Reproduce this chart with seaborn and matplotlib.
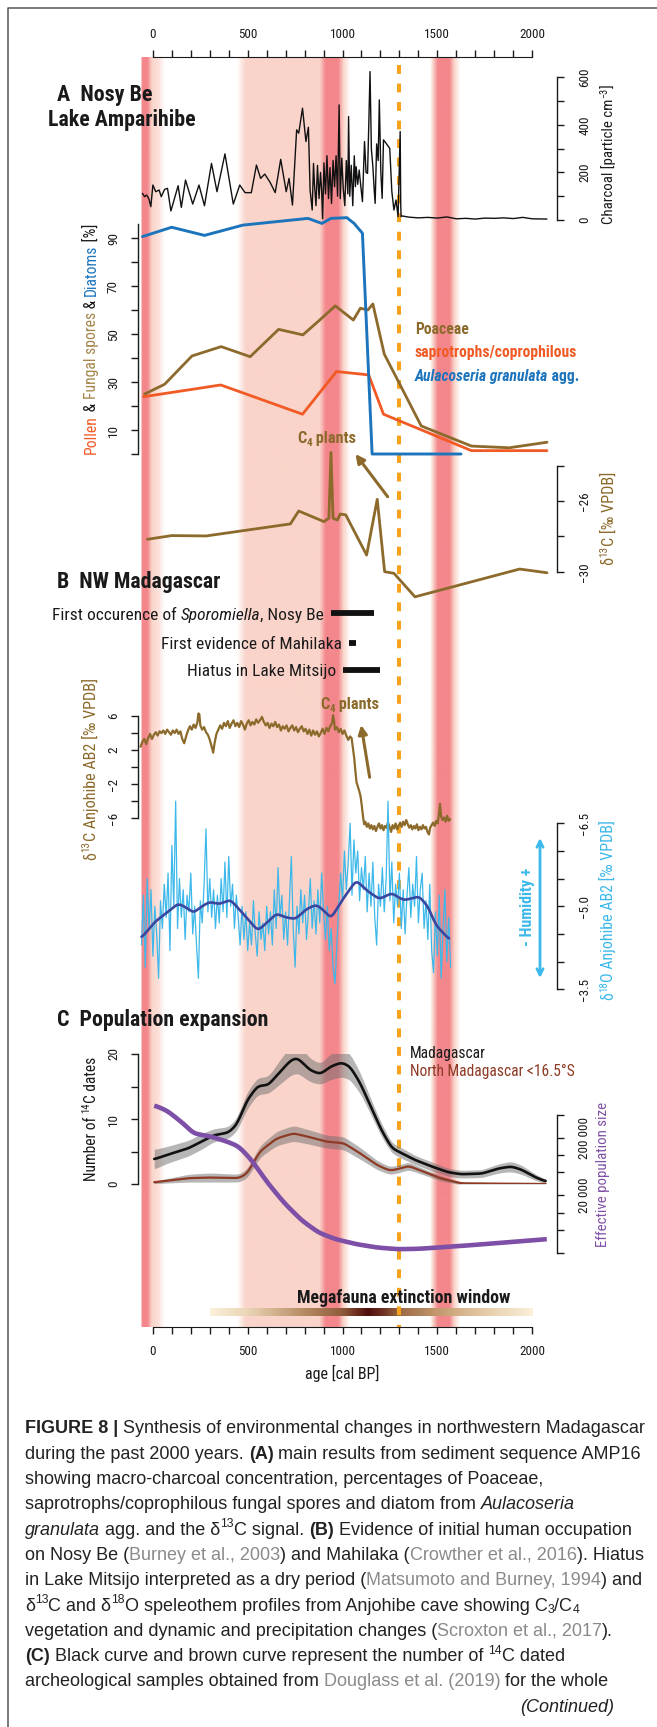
import numpy as np
import matplotlib
matplotlib.use("Agg")
import matplotlib.pyplot as plt
import matplotlib.transforms as mtransforms
from matplotlib.colors import to_rgb
from matplotlib.lines import Line2D
from matplotlib.patches import FancyArrowPatch
from matplotlib.ticker import FixedLocator, FuncFormatter, NullLocator
import seaborn as sns

sns.set_style("white")
FIG_FONT = ["Liberation Sans Narrow", "Roboto Condensed", "Open Sans Condensed", "Liberation Sans",
            "DejaVu Sans"]
CAP_FONT = ["Liberation Sans", "DejaVu Sans"]
plt.rcParams["font.family"] = FIG_FONT
plt.rcParams["axes.unicode_minus"] = True

# ---------------------------------------------------------------- data
# (A) Lake Amparihibe, AMP16: macro-charcoal [particle cm-3]
charcoal_age = [-55, -44, -33, -22, -11, 0, 15, 33, 44, 62, 77, 95, 133, 150, 172, 210, 243, 272,
                309, 338, 380, 424, 458, 486, 519, 546, 568, 590, 619, 645, 674, 703, 718, 736,
                758, 769, 789, 807, 820, 829, 840, 847, 852, 860, 868, 876, 884, 890, 895, 902,
                910, 918, 926, 934, 942, 950, 958, 966, 974, 982, 988, 996, 1004, 1012, 1020,
                1028, 1032, 1038, 1046, 1054, 1062, 1068, 1072, 1080, 1088, 1094, 1105, 1116,
                1124, 1132, 1139, 1145, 1152, 1160, 1166, 1172, 1180, 1188, 1194, 1202, 1209,
                1216, 1232, 1249, 1260, 1271, 1282, 1293, 1304, 1307, 1309, 1315, 1350, 1400,
                1450, 1500, 1550, 1600, 1650, 1700, 1750, 1800, 1850, 1900, 1950, 2000, 2078]
charcoal_conc = [112, 98, 105, 91, 56, 147, 119, 126, 98, 129, 133, 38, 144, 53, 168, 67, 147, 60,
                 238, 119, 278, 67, 147, 115, 115, 231, 175, 193, 157, 115, 255, 119, 175, 63,
                 379, 365, 470, 330, 390, 126, 42, 238, 150, 60, 230, 90, 200, 120, 5, 240,
                 110, 270, 90, 220, 70, 250, 140, 270, 100, 484, 90, 260, 130, 60, 250,
                 110, 435, 100, 230, 60, 270, 140, 224, 150, 210, 160, 77, 330,
                 200, 196, 420, 624, 300, 224, 140, 70, 320, 250, 505, 200, 91,
                 337, 320, 301, 120, 42, 84, 14, 372, 60, 14, 17, 12, 9,
                 11, 8, 13, 5, 7, 4, 8, 7, 9, 6, 11, 5, 4]

# pollen, fungal spores and diatoms [%]
aulacoseira_age = [-55, 99, 272, 475, 818, 891, 939, 1023, 1061, 1105, 1156, 1625]
aulacoseira_pct = [90.7, 94.6, 91.2, 95.5, 98.3, 96.2, 98.3, 98.6, 96.2, 92.1, 0.0, 0.0]
poaceae_age = [-44, 62, 206, 360, 513, 663, 791, 884, 962, 1057, 1094, 1134, 1160, 1220, 1304,
               1415, 1680, 1879, 2078]
poaceae_pct = [25.0, 29.1, 40.9, 44.8, 40.6, 52.0, 49.7, 56.2, 61.8, 55.9, 60.8, 60.1, 62.6, 41.7,
               28.8, 11.7, 3.3, 2.6, 4.9]
sapro_age = [-49, 358, 789, 968, 1138, 1216, 1680, 2078]
sapro_pct = [23.9, 28.8, 16.6, 34.4, 33.0, 16.6, 1.4, 1.4]

# bulk sediment d13C [permil VPDB]
lake_d13c_age = [-29, 99, 281, 725, 769, 902, 928, 939, 950, 973, 988, 1017, 1127, 1183, 1222,
                 1271, 1382, 1934, 2078]
lake_d13c = [-28.17, -27.96, -27.98, -27.30, -26.57, -27.17, -26.98, -23.26, -26.98, -27.08,
             -26.74, -26.79, -29.06, -25.91, -30.00, -30.09, -31.42, -29.85, -30.06]

# (B) archaeological / lake evidence [cal BP]
event_labels = [["First occurence of ", ("Sporomiella", "italic"), ", Nosy Be"],
                ["First evidence of Mahilaka"],
                ["Hiatus in Lake Mitsijo"]]
event_start = [939, 1034, 1001]
event_end = [1167, 1072, 1198]

# Anjohibe AB2 speleothem d13C [permil VPDB]
ab2_d13c_age = [-65, -55, -45, -35, -25, -15, -5, 5, 15, 25, 35, 45, 55, 65, 75, 85, 95, 105, 115,
                125, 135, 145, 155, 165, 175, 185, 195, 205, 215, 225, 235, 240, 245, 250, 260,
                270, 280, 290, 300, 310, 318, 325, 335, 345, 355, 365, 375, 385, 395, 405, 415,
                425, 435, 445, 455, 465, 475, 485, 495, 505, 515, 525, 535, 545, 555, 565, 575,
                585, 595, 605, 615, 625, 635, 645, 655, 665, 675, 685, 695, 705, 715, 725, 735,
                745, 755, 765, 775, 785, 795, 805, 815, 825, 835, 845, 855, 865, 875, 885, 895,
                905, 915, 925, 935, 945, 950, 955, 960, 970, 980, 990, 1000, 1010, 1020, 1030,
                1040, 1048, 1055, 1062, 1068, 1074, 1080, 1088, 1095, 1102, 1108, 1114, 1120,
                1128, 1136, 1144, 1152, 1160, 1168, 1176, 1184, 1192, 1200, 1208, 1216, 1224,
                1232, 1240, 1248, 1256, 1264, 1272, 1280, 1288, 1296, 1304, 1312, 1320, 1328,
                1336, 1344, 1352, 1360, 1368, 1376, 1384, 1392, 1400, 1408, 1416, 1424, 1432,
                1440, 1448, 1456, 1462, 1470, 1478, 1486, 1494, 1502, 1508, 1514, 1520, 1528,
                1536, 1544, 1552, 1560, 1568]
ab2_d13c = [2.4, 3.0, 3.3, 2.7, 3.4, 3.9, 3.3, 3.8, 4.1, 3.7, 4.2, 4.0, 4.3, 3.9, 4.4, 4.1, 3.8,
            4.3, 4.0, 4.4, 3.9, 4.2, 3.3, 2.8, 3.6, 4.3, 4.8, 4.4, 5.0, 4.6, 5.3, 6.3, 6.2, 4.9,
            4.4, 4.7, 4.1, 3.8, 3.2, 2.4, 1.7, 2.8, 3.9, 4.4, 4.9, 4.5, 5.2, 4.8, 5.4, 4.6, 5.1,
            5.5, 4.8, 5.2, 4.7, 5.4, 5.0, 4.4, 5.1, 5.5, 4.9, 5.3, 5.0, 5.6, 5.2, 5.5, 5.9, 5.3,
            4.9, 5.2, 4.6, 5.1, 4.8, 5.3, 4.7, 5.0, 4.3, 4.8, 4.5, 4.9, 4.2, 4.6, 4.9, 4.3, 4.7,
            4.1, 4.5, 4.8, 4.2, 4.5, 3.9, 4.4, 3.7, 4.3, 3.8, 4.2, 3.6, 4.0, 4.5, 3.9, 4.6, 4.2,
            4.8, 5.2, 6.1, 5.5, 4.4, 4.7, 4.1, 4.5, 3.9, 4.3, 3.7, 3.2, 3.6, 3.4, 2.2, 1.0, -0.5,
            -1.8, -2.2, -2.8, -3.4, -4.6, -5.8, -6.7, -6.4, -7.0, -6.6, -7.2, -6.8, -7.3, -6.9,
            -7.5, -7.0, -6.6, -7.2, -6.8, -7.4, -6.9, -7.1, -6.5, -7.0, -7.6, -6.8, -7.2, -6.6,
            -7.3, -6.9, -6.5, -7.0, -6.4, -6.8, -6.2, -6.7, -7.1, -6.8, -7.3, -6.9, -7.2, -6.7,
            -7.4, -7.0, -7.3, -6.8, -7.2, -7.0, -7.6, -7.9, -7.1, -6.8, -6.5, -6.9, -6.3, -6.6,
            -5.6, -4.3, -5.8, -6.2, -5.9, -6.4, -5.7, -6.3, -6.1]

# Anjohibe AB2 speleothem d18O [permil VPDB], 10-year record
ab2_d18o_age = list(range(-60, 1571, 10))
ab2_d18o = [-4.3, -5.2, -3.9, -5.5, -4.6, -5.3, -4.1, -5.0, -4.5, -3.7, -5.1, -4.6, -5.4, -4.8,
            -5.6, -4.2, -6.1, -5.0, -6.9, -4.6, -5.5, -4.8, -5.3, -4.4, -5.2, -4.9, -5.6, -4.5,
            -5.0, -4.3, -3.7, -5.1, -4.7, -5.4, -6.4, -4.9, -5.5, -4.8, -5.3, -4.6, -5.2, -4.7,
            -5.5, -4.9, -5.8, -4.8, -5.9, -5.0, -5.4, -4.6, -5.2, -4.8, -4.3, -5.0, -4.4, -4.9,
            -4.2, -4.7, -4.3, -5.1, -4.5, -4.1, -4.9, -4.4, -4.7, -4.2, -5.0, -4.5, -4.9, -4.3,
            -5.3, -4.6, -5.7, -4.8, -5.2, -4.4, -4.9, -4.3, -5.1, -5.9, -4.6, -3.9, -5.0, -4.5,
            -5.3, -4.7, -5.2, -4.4, -4.9, -5.5, -4.6, -5.1, -4.5, -5.3, -4.7, -5.6, -4.9, -4.4,
            -5.0, -4.2, -4.6, -3.9, -3.6, -4.3, -5.0, -5.6, -5.1, -6.0, -5.3, -5.8, -6.5, -5.2,
            -6.2, -5.6, -6.0, -5.1, -5.7, -5.3, -5.9, -4.9, -5.6, -5.0, -5.8, -4.8, -4.3, -5.4,
            -5.0, -5.7, -4.9, -5.5, -6.9, -5.1, -5.8, -4.7, -5.4, -5.0, -5.6, -4.6, -5.3, -4.5,
            -5.2, -5.7, -4.8, -5.4, -5.0, -5.9, -4.7, -5.3, -5.6, -4.6, -5.1, -4.4, -5.4, -4.2,
            -3.8, -4.9, -4.1, -5.2, -3.7, -4.6, -5.3, -4.0, -4.8, -3.9]
# smoothed d18O trend (nodes)
d18o_trend_age = [-60, 11, 60, 133, 175, 214, 250, 298, 350, 409, 480, 553, 600, 652, 700, 752,
                  810, 862, 900, 939, 1000, 1072, 1130, 1194, 1260, 1300, 1326, 1360, 1404, 1450,
                  1492, 1563]
d18o_trend = [-4.43, -4.72, -4.85, -5.05, -4.98, -4.88, -4.98, -5.08, -5.04, -5.12, -4.85, -4.56,
              -4.70, -4.87, -4.80, -4.77, -4.95, -5.03, -4.93, -4.78, -5.12, -5.47, -5.28, -5.13,
              -5.24, -5.15, -5.11, -5.14, -5.18, -5.00, -4.66, -4.40]

# (C) summed 14C dates and effective population size
c14_age = [7, 77, 188, 254, 320, 398, 442, 497, 553, 608, 663, 729, 763, 829, 884, 939, 995, 1039,
           1094, 1149, 1205, 1260, 1315, 1382, 1470, 1558, 1625, 1735, 1824, 1890, 1945, 2012, 2071]
c14_all = [3.8, 4.5, 5.5, 6.5, 7.5, 7.9, 9.1, 12.9, 15.1, 15.2, 17.0, 19.1, 19.4, 17.5, 16.9, 18.1,
           18.7, 18.1, 15.5, 11.9, 8.3, 5.5, 4.7, 3.7, 2.7, 1.8, 1.5, 1.6, 2.4, 2.7, 2.2, 1.1, 0.4]
c14_all_err = [1.5, 1.3, 1.2, 1.2, 1.0, 0.9, 1.0, 1.3, 1.3, 1.3, 1.8, 2.3, 2.3, 1.8, 1.6, 2.0, 2.2,
               2.0, 1.6, 1.2, 1.0, 0.8, 0.8, 0.7, 0.7, 0.6, 0.6, 0.6, 0.7, 0.8, 0.7, 0.5, 0.3]
c14_north_age = [7, 188, 298, 453, 497, 564, 652, 741, 829, 917, 1006, 1094, 1183, 1249, 1293,
                 1348, 1404, 1514, 1625, 2071]
c14_north = [0.26, 0.9, 1.0, 0.9, 1.6, 5.0, 7.0, 7.8, 7.2, 6.5, 6.3, 4.7, 2.9, 2.05, 2.3, 2.8,
             2.15, 0.9, 0.1, 0.0]
c14_north_err = [0.2, 0.6, 0.7, 0.6, 0.7, 0.9, 1.1, 1.2, 1.1, 1.0, 1.0, 0.9, 0.7, 0.6, 0.6, 0.6,
                 0.5, 0.4, 0.2, 0.1]
pop_age = [7, 77, 166, 214, 298, 387, 453, 519, 608, 696, 785, 873, 962, 1072, 1183, 1293, 1404,
           1625, 1846, 2078]
pop_size = [741000, 589000, 343000, 238000, 214000, 174000, 142000, 83000, 32000, 14300, 7300,
            4500, 3450, 2820, 2460, 2300, 2340, 2620, 3000, 3450]

# shaded dry phases (0 = none, 1 = moderate, 2 = strong)
phase_age = [-77.5, -60, -59, -28, -5, 30, 64, 445, 490, 880, 912, 978, 1005, 1040, 1462, 1478,
             1503, 1565, 1590, 1622, 2131]
phase_level = [0, 0, 2, 2, 1, 0.7, 0, 0, 1, 1, 2, 2, 1, 0, 0, 1, 2, 2, 1, 0, 0]
settlement_age = 1300
megafauna_age = [300, 500, 800, 1000, 1080, 1130, 1200, 1300, 1500, 1750, 2000]
megafauna_col = ["#FBF0DA", "#EAD4B4", "#B58A62", "#8F5A3A", "#6A2A1E", "#4E0C0C", "#6A2A1E",
                 "#9A6A45", "#C49A6E", "#E6CCA8", "#FBF0DA"]

OLIVE = "#8C6A2B"
ORANGE = "#F15A24"
BLUE = "#1C75BC"
SKY = "#3DB8EA"
NAVY = "#3A47A0"
PURPLE = "#7E4FA6"
RUST = "#8E3A25"
DASH = "#F7A21B"
INK = "#1a1a1a"

# ---------------------------------------------------------------- figure
W, H, DPI = 657, 1727, 100
fig = plt.figure(figsize=(W / DPI, H / DPI), dpi=DPI)
fig.patch.set_facecolor("white")
PX = mtransforms.Affine2D().scale(1, -1).translate(0, H)
renderer = fig.canvas.get_renderer()

X0, X1 = -77.5, 2131.0
LEFT_PX, RIGHT_PX = 138.2, 557.0
TOP_PX, BOT_PX = 57.3, 1326.7


def yx(year):
    return LEFT_PX + (year - X0) * (RIGHT_PX - LEFT_PX) / (X1 - X0)


def text_width(s, **kw):
    t = fig.text(0, 0, s + "|", **kw)
    w1 = t.get_window_extent(renderer).width
    t.set_text("|")
    w2 = t.get_window_extent(renderer).width
    t.remove()
    return w1 - w2


def rich(x, y, segs, size, rot=0, align="left", fit=None, family=FIG_FONT, color=INK, weight="normal"):
    """Draw a run of styled text pieces; (x, y) = start/center, y = visual middle."""
    def build(sz):
        items = []
        for seg in segs:
            if isinstance(seg, str):
                seg = (seg, {})
            txt, st = seg
            sc = 0.68 if st.get("shift") else 1.0
            kw = dict(fontsize=sz * sc, family=family, color=st.get("color", color),
                      fontweight=st.get("weight", weight), fontstyle=st.get("style", "normal"))
            items.append((txt, kw, st.get("shift"), text_width(txt, **kw)))
        return items
    items = build(size)
    total = sum(it[3] for it in items)
    if fit:
        size = size * fit / total
        items = build(size)
        total = sum(it[3] for it in items)
    em = size / 0.72
    start = {"left": 0.0, "center": -total / 2, "right": -total}[align]
    if rot == 0:
        d, u = (1, 0), (0, -1)
        bx, by = x, y + 0.36 * em
    else:
        d, u = (0, -1), (-1, 0)
        bx, by = x + 0.36 * em, y
    pos = start
    for txt, kw, shift, w in items:
        off = 0.40 * em if shift == "sup" else (-0.16 * em if shift == "sub" else 0.0)
        fig.text(bx + d[0] * pos + u[0] * off, by + d[1] * pos + u[1] * off, txt,
                 transform=PX, rotation=rot, rotation_mode="anchor", ha="left", va="baseline", **kw)
        pos += w
    return size


def panel(ytop, ybot, log=False):
    ax = fig.add_axes([LEFT_PX / W, 1 - ybot / H, (RIGHT_PX - LEFT_PX) / W, (ybot - ytop) / H])
    if log:
        ax.set_yscale("log")
    ax.patch.set_alpha(0)
    ax.grid(False)
    for s in ax.spines.values():
        s.set_visible(False)
    ax.set_xticks([])
    ax.tick_params(axis="y", which="both", left=False, right=False, labelleft=False, labelright=False)
    return ax


def finish(ax, ylim):
    ax.set_xlim(X0, X1)
    ax.set_ylim(*ylim)
    ax.set_xlabel("")
    ax.set_ylabel("")


TICK_FS = 10 * 25.6 / text_width("2000", fontsize=10, family=FIG_FONT)


def style_y(ax, side, ticks, labels, bounds, pad=10):
    sp = ax.spines[side]
    sp.set_visible(True)
    sp.set_bounds(*bounds)
    sp.set_color(INK)
    sp.set_linewidth(1.0)
    ax.yaxis.set_ticks_position(side)
    ax.yaxis.set_major_locator(FixedLocator(ticks))
    ax.yaxis.set_minor_locator(NullLocator())
    ax.yaxis.set_major_formatter(FuncFormatter(lambda v, p: labels.get(int(round(v * 10)), "")))
    ax.tick_params(axis="y", which="major", direction="out", length=5.3, width=1.0, pad=pad,
                   labelsize=TICK_FS, colors=INK, left=(side == "left"), right=(side == "right"),
                   labelleft=(side == "left"), labelright=(side == "right"))
    for lab in ax.get_yticklabels():
        lab.set_rotation(90)
        lab.set_rotation_mode("anchor")
        lab.set_ha("center")
        lab.set_va("top" if side == "right" else "baseline")


def smooth(xk, yk, step=2.0, sigma=20.0):
    xs = np.arange(xk[0], xk[-1] + step / 2, step)
    ys = np.interp(xs, xk, yk)
    n = int(3 * sigma / step)
    k = np.exp(-0.5 * (np.arange(-n, n + 1) * step / sigma) ** 2)
    k /= k.sum()
    return xs, np.convolve(np.pad(ys, n, mode="edge"), k, mode="valid")


def line(ax, x, y, color, lw, **kw):
    sns.lineplot(x=np.asarray(x, float), y=np.asarray(y, float), ax=ax, color=color, linewidth=lw,
                 estimator=None, sort=False, legend=False, **kw)


# background: shaded phases, time axes, settlement line, extinction window
bg = fig.add_axes([LEFT_PX / W, 1 - BOT_PX / H, (RIGHT_PX - LEFT_PX) / W, (BOT_PX - TOP_PX) / H])
bg.patch.set_alpha(0)
grid = np.linspace(X0, X1, 2400)
lvl = np.interp(grid, phase_age, phase_level)
c_w, c_l, c_d = np.ones(3), np.array(to_rgb("#FAD4CA")), np.array(to_rgb("#F3878C"))
a = np.clip(lvl, 0, 1)[:, None]
b = np.clip(lvl - 1, 0, 1)[:, None]
cols = np.where(lvl[:, None] <= 1, c_w + (c_l - c_w) * a, c_l + (c_d - c_l) * b)
bg.imshow(cols[None, :, :], extent=(X0, X1, BOT_PX, TOP_PX), aspect="auto",
          interpolation="bilinear", zorder=0)
mg = np.linspace(megafauna_age[0], megafauna_age[-1], 800)
mrgb = np.array([to_rgb(c) for c in megafauna_col])
mcols = np.stack([np.interp(mg, megafauna_age, mrgb[:, i]) for i in range(3)], axis=1)
bg.imshow(mcols[None, :, :], extent=(megafauna_age[0], megafauna_age[-1], 1315.8, 1308.2),
          aspect="auto", interpolation="bilinear", zorder=1)
bg.plot([settlement_age, settlement_age], [65, BOT_PX], color=DASH, lw=2.9, dashes=(2.2, 2.4),
        solid_capstyle="butt", dash_capstyle="butt", zorder=2)
bg.set_xlim(X0, X1)
bg.set_ylim(BOT_PX, TOP_PX)
for s in ["left", "right", "top"]:
    bg.spines[s].set_visible(False)
bg.spines["bottom"].set_bounds(0, 2000)
bg.spines["bottom"].set_color(INK)
bg.set_yticks([])
yr_fmt = FuncFormatter(lambda v, p: f"{int(round(v))}" if int(round(v)) % 500 == 0 else "")
bg.xaxis.set_major_locator(FixedLocator(np.arange(0, 2001, 100)))
bg.xaxis.set_major_formatter(yr_fmt)
bg.tick_params(axis="x", which="major", bottom=True, top=False, labelbottom=True, labeltop=False,
               direction="out", length=5.3, width=1.0, pad=7.8, labelsize=TICK_FS, colors=INK)
top = bg.twiny()
top.patch.set_alpha(0)
top.set_xlim(X0, X1)
for s in ["left", "right", "bottom"]:
    top.spines[s].set_visible(False)
top.spines["top"].set_bounds(0, 2000)
top.spines["top"].set_color(INK)
top.xaxis.set_major_locator(FixedLocator(np.arange(0, 2001, 100)))
top.xaxis.set_major_formatter(yr_fmt)
top.tick_params(axis="x", which="major", top=True, labeltop=True, direction="out", length=5.3,
                width=1.0, pad=6.5, labelsize=TICK_FS, colors=INK)

# (A) charcoal
ax_ch = panel(77.3, 220)
line(ax_ch, charcoal_age, charcoal_conc, "#111111", 1.0, clip_on=False)
finish(ax_ch, (0, 600))
style_y(ax_ch, "right", list(range(0, 601, 100)), {0: "0", 2000: "200", 4000: "400", 6000: "600"},
        (0, 600))

# pollen / spores / diatoms
ax_po = panel(223.9, 454)
line(ax_po, poaceae_age, poaceae_pct, OLIVE, 2.0, clip_on=False)
line(ax_po, sapro_age, sapro_pct, ORANGE, 2.0, clip_on=False)
line(ax_po, aulacoseira_age, aulacoseira_pct, BLUE, 2.1, clip_on=False)
finish(ax_po, (0, 96))
style_y(ax_po, "left", list(range(0, 91, 10)), {100: "10", 300: "30", 500: "50", 700: "70", 900: "90"},
        (0, 96))

# lake d13C
ax_lc = panel(465.5, 571.7)
line(ax_lc, lake_d13c_age, lake_d13c, OLIVE, 2.0, clip_on=False)
finish(ax_lc, (-30, -24))
style_y(ax_lc, "right", [-30, -28, -26, -24], {-260: "\u221226", -300: "\u221230"}, (-30, -24))

# (B) speleothem d13C
ax_sc = panel(716, 818.3)
line(ax_sc, ab2_d13c_age, ab2_d13c, OLIVE, 1.6, clip_on=False)
finish(ax_sc, (-6, 6))
style_y(ax_sc, "left", [-6, -4, -2, 0, 2, 4, 6],
        {60: "6", 20: "2", -20: "\u22122", -60: "\u22126"}, (-6, 6))

# speleothem d18O (inverted)
ax_so = panel(823.3, 989.3)
line(ax_so, ab2_d18o_age, ab2_d18o, SKY, 0.9, clip_on=False)
tx, ty = smooth(d18o_trend_age, d18o_trend, sigma=12)
line(ax_so, tx, ty, NAVY, 1.9, clip_on=False)
finish(ax_so, (-3.5, -6.5))
style_y(ax_so, "right", [-6.5, -6.0, -5.5, -5.0, -4.5, -4.0, -3.5],
        {-65: "\u22126.5", -50: "\u22125.0", -35: "\u22123.5"}, (-6.5, -3.5))

# (C) summed probability of 14C dates
ax_14 = panel(1054, 1184)
bx_, by_ = smooth(c14_age, c14_all, sigma=14)
_, be_ = smooth(c14_age, c14_all_err, sigma=14)
nx_, ny_ = smooth(c14_north_age, c14_north, sigma=14)
_, ne_ = smooth(c14_north_age, c14_north_err, sigma=14)
ax_14.fill_between(nx_, np.maximum(ny_ - ne_, 0), ny_ + ne_, color="#6f6f6f", alpha=0.5, lw=0)
ax_14.fill_between(bx_, by_ - be_, by_ + be_, color="#6f6f6f", alpha=0.5, lw=0)
line(ax_14, nx_, ny_, RUST, 1.6)
line(ax_14, bx_, by_, "#111111", 1.9)
finish(ax_14, (0, 20))
style_y(ax_14, "left", [0, 5, 10, 15, 20], {0: "0", 100: "10", 200: "20"}, (0, 20))

# effective population size
ax_pop = panel(1115, 1252.7, log=True)
px_, lp_ = smooth(pop_age, np.log10(pop_size), sigma=18)
line(ax_pop, px_, 10 ** lp_, PURPLE, 3.3, clip_on=False, solid_capstyle="butt")
finish(ax_pop, (2000, 500000))
style_y(ax_pop, "right", [2000, 5000, 10000, 20000, 50000, 100000, 200000, 500000],
        {200000: "20 000", 2000000: "200 000"}, (2000, 500000))

# ---------------------------------------------------------------- annotations
efs = None
for i, (lab, s, e) in enumerate(zip(event_labels, event_start, event_end)):
    yy = [613.3, 642.7, 670.0][i]
    hl = bg.hlines(yy, s, e, colors="#111111", lw=4.2, zorder=3)
    hl.set_capstyle("butt")
    segs = [(p[0], {"style": p[1]}) if isinstance(p, tuple) else p for p in lab]
    if efs is None:
        efs = rich(yx(s) - 7, yy, segs, 10.4, align="right", fit=269)
    else:
        rich(yx(s) - 7, yy, segs, efs, align="right")

bold = "bold"
rich(56.6, 93.3, ["A  Nosy Be"], 13, fit=95, weight=bold)
rich(48.2, 118.3, ["Lake Amparihibe"], 13, fit=146.6, weight=bold)
rich(56.6, 580.0, ["B  NW Madagascar"], 13, fit=162, weight=bold)
rich(56.6, 1018.3, ["C  Population expansion"], 13, fit=210.7, weight=bold)

lfs = rich(414.7, 328.3, ["Poaceae"], 11, fit=53.6, color=OLIVE, weight=bold)
rich(414.7, 351.7, ["saprotrophs/coprophilous"], lfs, color=ORANGE, weight=bold)
rich(414.7, 375.7, [("Aulacoseria granulata", {"style": "italic"}), " agg."], lfs, color=BLUE,
     weight=bold)

c4 = ["C", ("4", {"shift": "sub"}), " plants"]
c4fs = rich(yx(918), 437.3, c4, 11, align="center", fit=58.7, color=OLIVE, weight=bold)
rich(yx(1039), 703.3, c4, c4fs, align="center", color=OLIVE, weight=bold)
for (xa, ya), (xb, yb) in [((1238, 496.7), (1068, 454.0)), ((1143, 777.3), (1098, 725.0))]:
    fig.add_artist(FancyArrowPatch((yx(xa), ya), (yx(xb), yb), transform=PX, arrowstyle="-|>",
                                   mutation_scale=13, lw=2.2, color=OLIVE, shrinkA=0, shrinkB=0))

fig.add_artist(FancyArrowPatch((540, 978), (540, 838), transform=PX, arrowstyle="<->",
                               mutation_scale=11, lw=2.0, color=SKY, shrinkA=0, shrinkB=0))
rich(526.7, 907, ["- Humidity +"], 10, rot=90, align="center", fit=78.7, color=SKY, weight=bold)

mfs = rich(409.7, 1052.7, ["Madagascar"], 11, fit=75.4)
rich(409.7, 1070.0, ["North Madagascar <16.5\u00b0S"], mfs, color=RUST)
rich(403.3, 1296.7, ["Megafauna extinction window"], 12, align="center", fit=213, weight=bold)
rich(342.0, 1373.3, ["age [cal BP]"], 11, align="center", fit=74)

# axis titles
rich(607.5, 154, ["Charcoal [particle cm", ("\u22123", {"shift": "sup"}), "]"], 11, rot=90,
     align="center", fit=138)
rich(607.5, 518, ["\u03b4", ("13", {"shift": "sup"}), "C [\u2030 VPDB]"], 11, rot=90,
     align="center", fit=93, color=OLIVE)
rich(90, 338.5, [("Pollen", {"color": ORANGE}), " & ", ("Fungal spores", {"color": "#A3844A"}),
                 " & ", ("Diatoms", {"color": BLUE}), " [%]"], 11, rot=90, align="center", fit=229)
rich(90, 769, ["\u03b4", ("13", {"shift": "sup"}), "C Anjohibe AB2 [\u2030 VPDB]"], 11, rot=90,
     align="center", fit=182, color=OLIVE)
rich(607.5, 910, ["\u03b4", ("18", {"shift": "sup"}), "O Anjohibe AB2 [\u2030 VPDB]"], 11, rot=90,
     align="center", fit=180, color=SKY)
rich(90, 1119, ["Number of ", ("14", {"shift": "sup"}), "C dates"], 11, rot=90, align="center",
     fit=125)
rich(601.7, 1174, ["Effective population size"], 11, rot=90, align="center", fit=145, color=PURPLE)

# ---------------------------------------------------------------- caption
GREY = "#8a8a8a"
B = {"weight": "bold"}
I = {"style": "italic"}
G = {"color": GREY}
SUP = {"shift": "sup"}
SUB = {"shift": "sub"}
caption = [
    [("FIGURE 8 | ", B), "Synthesis of environmental changes in northwestern Madagascar"],
    ["during the past 2000 years. ", ("(A)", B), " main results from sediment sequence AMP16"],
    ["showing macro-charcoal concentration, percentages of Poaceae,"],
    ["saprotrophs/coprophilous fungal spores and diatom from ", ("Aulacoseria", I)],
    [("granulata", I), " agg. and the \u03b4", ("13", SUP), "C signal. ", ("(B)", B),
     " Evidence of initial human occupation"],
    ["on Nosy Be (", ("Burney et al., 2003", G), ") and Mahilaka (", ("Crowther et al., 2016", G),
     "). Hiatus"],
    ["in Lake Mitsijo interpreted as a dry period (", ("Matsumoto and Burney, 1994", G), ") and"],
    ["\u03b4", ("13", SUP), "C and \u03b4", ("18", SUP),
     "O speleothem profiles from Anjohibe cave showing C", ("3", SUB), "/C", ("4", SUB)],
    ["vegetation and dynamic and precipitation changes (", ("Scroxton et al., 2017", G), ")."],
    [("(C)", B), " Black curve and brown curve represent the number of ", ("14", SUP), "C dated"],
    ["archeological samples obtained from ", ("Douglass et al. (2019)", G), " for the whole"],
]
cfs = rich(25, 1427, caption[0], 12, fit=620, family=CAP_FONT, color="#222222")
for i, segs in enumerate(caption[1:], start=1):
    rich(25, 1427 + 25.3 * i, segs, cfs, family=CAP_FONT, color="#222222")
rich(614, 1427 + 25.3 * 11, [("(Continued)", I)], cfs, align="right", family=CAP_FONT,
     color="#222222")

# outer frame
fig.add_artist(Line2D([8.4, 8.4, W + 5], [H + 5, 8.3, 8.3], transform=PX, color="#555555", lw=1.1))

fig.savefig("out.png", dpi=DPI)
